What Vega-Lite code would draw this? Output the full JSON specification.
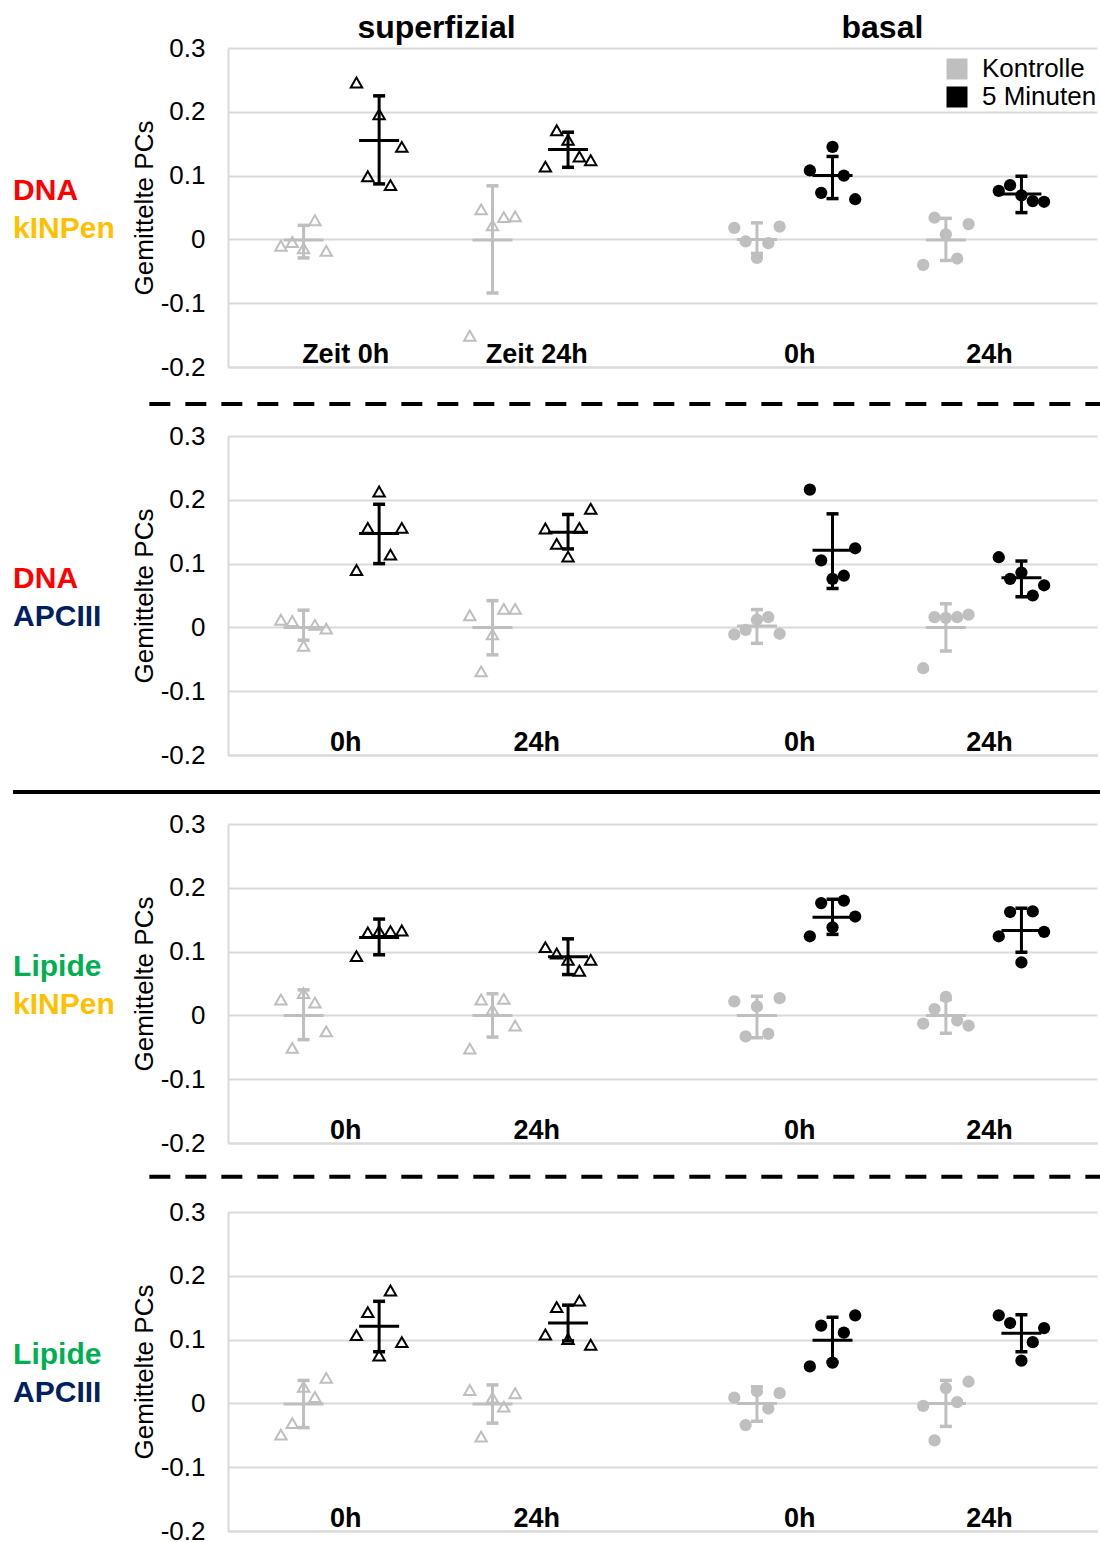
{
  "$schema": "https://vega.github.io/schema/vega-lite/v6.json",
  "padding": {"left": 11, "top": 11, "right": 0, "bottom": 0},
  "background": "white",
  "bounds": "flush",
  "spacing": 69,
  "datasets": {
    "pts": [
      {"p":1,"s":"S","g":"Kontrolle","x":0.7,"v":-0.010},{"p":1,"s":"S","g":"Kontrolle","x":0.85,"v":-0.004},{"p":1,"s":"S","g":"Kontrolle","x":1.0,"v":-0.014},{"p":1,"s":"S","g":"Kontrolle","x":1.15,"v":0.030},{"p":1,"s":"S","g":"Kontrolle","x":1.3,"v":-0.018},
      {"p":1,"s":"S","g":"5 Minuten","x":1.7,"v":0.246},{"p":1,"s":"S","g":"5 Minuten","x":1.85,"v":0.099},{"p":1,"s":"S","g":"5 Minuten","x":2.0,"v":0.196},{"p":1,"s":"S","g":"5 Minuten","x":2.15,"v":0.085},{"p":1,"s":"S","g":"5 Minuten","x":2.3,"v":0.145},
      {"p":1,"s":"S","g":"Kontrolle","x":3.2,"v":-0.151},{"p":1,"s":"S","g":"Kontrolle","x":3.35,"v":0.047},{"p":1,"s":"S","g":"Kontrolle","x":3.5,"v":0.022},{"p":1,"s":"S","g":"Kontrolle","x":3.65,"v":0.035},{"p":1,"s":"S","g":"Kontrolle","x":3.8,"v":0.036},
      {"p":1,"s":"S","g":"5 Minuten","x":4.2,"v":0.114},{"p":1,"s":"S","g":"5 Minuten","x":4.35,"v":0.171},{"p":1,"s":"S","g":"5 Minuten","x":4.5,"v":0.156},{"p":1,"s":"S","g":"5 Minuten","x":4.65,"v":0.130},{"p":1,"s":"S","g":"5 Minuten","x":4.8,"v":0.124},
      {"p":1,"s":"B","g":"Kontrolle","x":6.7,"v":0.018},{"p":1,"s":"B","g":"Kontrolle","x":6.85,"v":-0.003},{"p":1,"s":"B","g":"Kontrolle","x":7.0,"v":-0.029},{"p":1,"s":"B","g":"Kontrolle","x":7.15,"v":-0.006},{"p":1,"s":"B","g":"Kontrolle","x":7.3,"v":0.020},
      {"p":1,"s":"B","g":"5 Minuten","x":7.7,"v":0.108},{"p":1,"s":"B","g":"5 Minuten","x":7.85,"v":0.073},{"p":1,"s":"B","g":"5 Minuten","x":8.0,"v":0.145},{"p":1,"s":"B","g":"5 Minuten","x":8.15,"v":0.100},{"p":1,"s":"B","g":"5 Minuten","x":8.3,"v":0.063},
      {"p":1,"s":"B","g":"Kontrolle","x":9.2,"v":-0.040},{"p":1,"s":"B","g":"Kontrolle","x":9.35,"v":0.034},{"p":1,"s":"B","g":"Kontrolle","x":9.5,"v":0.008},{"p":1,"s":"B","g":"Kontrolle","x":9.65,"v":-0.030},{"p":1,"s":"B","g":"Kontrolle","x":9.8,"v":0.024},
      {"p":1,"s":"B","g":"5 Minuten","x":10.2,"v":0.076},{"p":1,"s":"B","g":"5 Minuten","x":10.35,"v":0.085},{"p":1,"s":"B","g":"5 Minuten","x":10.5,"v":0.069},{"p":1,"s":"B","g":"5 Minuten","x":10.65,"v":0.060},{"p":1,"s":"B","g":"5 Minuten","x":10.8,"v":0.059},
      {"p":2,"s":"S","g":"Kontrolle","x":0.7,"v":0.012},{"p":2,"s":"S","g":"Kontrolle","x":0.85,"v":0.010},{"p":2,"s":"S","g":"Kontrolle","x":1.0,"v":-0.029},{"p":2,"s":"S","g":"Kontrolle","x":1.15,"v":0.004},{"p":2,"s":"S","g":"Kontrolle","x":1.3,"v":-0.002},
      {"p":2,"s":"S","g":"5 Minuten","x":1.7,"v":0.090},{"p":2,"s":"S","g":"5 Minuten","x":1.85,"v":0.156},{"p":2,"s":"S","g":"5 Minuten","x":2.0,"v":0.213},{"p":2,"s":"S","g":"5 Minuten","x":2.15,"v":0.114},{"p":2,"s":"S","g":"5 Minuten","x":2.3,"v":0.156},
      {"p":2,"s":"S","g":"Kontrolle","x":3.2,"v":0.019},{"p":2,"s":"S","g":"Kontrolle","x":3.35,"v":-0.069},{"p":2,"s":"S","g":"Kontrolle","x":3.5,"v":-0.011},{"p":2,"s":"S","g":"Kontrolle","x":3.65,"v":0.029},{"p":2,"s":"S","g":"Kontrolle","x":3.8,"v":0.029},
      {"p":2,"s":"S","g":"5 Minuten","x":4.2,"v":0.155},{"p":2,"s":"S","g":"5 Minuten","x":4.35,"v":0.131},{"p":2,"s":"S","g":"5 Minuten","x":4.5,"v":0.111},{"p":2,"s":"S","g":"5 Minuten","x":4.65,"v":0.156},{"p":2,"s":"S","g":"5 Minuten","x":4.8,"v":0.186},
      {"p":2,"s":"B","g":"Kontrolle","x":6.7,"v":-0.011},{"p":2,"s":"B","g":"Kontrolle","x":6.85,"v":-0.004},{"p":2,"s":"B","g":"Kontrolle","x":7.0,"v":0.012},{"p":2,"s":"B","g":"Kontrolle","x":7.15,"v":0.016},{"p":2,"s":"B","g":"Kontrolle","x":7.3,"v":-0.010},
      {"p":2,"s":"B","g":"5 Minuten","x":7.7,"v":0.216},{"p":2,"s":"B","g":"5 Minuten","x":7.85,"v":0.105},{"p":2,"s":"B","g":"5 Minuten","x":8.0,"v":0.076},{"p":2,"s":"B","g":"5 Minuten","x":8.15,"v":0.081},{"p":2,"s":"B","g":"5 Minuten","x":8.3,"v":0.124},
      {"p":2,"s":"B","g":"Kontrolle","x":9.2,"v":-0.064},{"p":2,"s":"B","g":"Kontrolle","x":9.35,"v":0.016},{"p":2,"s":"B","g":"Kontrolle","x":9.5,"v":0.015},{"p":2,"s":"B","g":"Kontrolle","x":9.65,"v":0.016},{"p":2,"s":"B","g":"Kontrolle","x":9.8,"v":0.020},
      {"p":2,"s":"B","g":"5 Minuten","x":10.2,"v":0.110},{"p":2,"s":"B","g":"5 Minuten","x":10.35,"v":0.076},{"p":2,"s":"B","g":"5 Minuten","x":10.5,"v":0.086},{"p":2,"s":"B","g":"5 Minuten","x":10.65,"v":0.050},{"p":2,"s":"B","g":"5 Minuten","x":10.8,"v":0.066},
      {"p":3,"s":"S","g":"Kontrolle","x":0.7,"v":0.025},{"p":3,"s":"S","g":"Kontrolle","x":0.85,"v":-0.051},{"p":3,"s":"S","g":"Kontrolle","x":1.0,"v":0.035},{"p":3,"s":"S","g":"Kontrolle","x":1.15,"v":0.020},{"p":3,"s":"S","g":"Kontrolle","x":1.3,"v":-0.025},
      {"p":3,"s":"S","g":"5 Minuten","x":1.7,"v":0.093},{"p":3,"s":"S","g":"5 Minuten","x":1.85,"v":0.130},{"p":3,"s":"S","g":"5 Minuten","x":2.0,"v":0.132},{"p":3,"s":"S","g":"5 Minuten","x":2.15,"v":0.132},{"p":3,"s":"S","g":"5 Minuten","x":2.3,"v":0.133},
      {"p":3,"s":"S","g":"Kontrolle","x":3.2,"v":-0.052},{"p":3,"s":"S","g":"Kontrolle","x":3.35,"v":0.025},{"p":3,"s":"S","g":"Kontrolle","x":3.5,"v":0.009},{"p":3,"s":"S","g":"Kontrolle","x":3.65,"v":0.026},{"p":3,"s":"S","g":"Kontrolle","x":3.8,"v":-0.016},
      {"p":3,"s":"S","g":"5 Minuten","x":4.2,"v":0.107},{"p":3,"s":"S","g":"5 Minuten","x":4.35,"v":0.097},{"p":3,"s":"S","g":"5 Minuten","x":4.5,"v":0.087},{"p":3,"s":"S","g":"5 Minuten","x":4.65,"v":0.070},{"p":3,"s":"S","g":"5 Minuten","x":4.8,"v":0.087},
      {"p":3,"s":"B","g":"Kontrolle","x":6.7,"v":0.022},{"p":3,"s":"B","g":"Kontrolle","x":6.85,"v":-0.033},{"p":3,"s":"B","g":"Kontrolle","x":7.0,"v":0.014},{"p":3,"s":"B","g":"Kontrolle","x":7.15,"v":-0.029},{"p":3,"s":"B","g":"Kontrolle","x":7.3,"v":0.027},
      {"p":3,"s":"B","g":"5 Minuten","x":7.7,"v":0.124},{"p":3,"s":"B","g":"5 Minuten","x":7.85,"v":0.176},{"p":3,"s":"B","g":"5 Minuten","x":8.0,"v":0.138},{"p":3,"s":"B","g":"5 Minuten","x":8.15,"v":0.180},{"p":3,"s":"B","g":"5 Minuten","x":8.3,"v":0.155},
      {"p":3,"s":"B","g":"Kontrolle","x":9.2,"v":-0.013},{"p":3,"s":"B","g":"Kontrolle","x":9.35,"v":0.010},{"p":3,"s":"B","g":"Kontrolle","x":9.5,"v":0.029},{"p":3,"s":"B","g":"Kontrolle","x":9.65,"v":-0.008},{"p":3,"s":"B","g":"Kontrolle","x":9.8,"v":-0.016},
      {"p":3,"s":"B","g":"5 Minuten","x":10.2,"v":0.124},{"p":3,"s":"B","g":"5 Minuten","x":10.35,"v":0.162},{"p":3,"s":"B","g":"5 Minuten","x":10.5,"v":0.083},{"p":3,"s":"B","g":"5 Minuten","x":10.65,"v":0.163},{"p":3,"s":"B","g":"5 Minuten","x":10.8,"v":0.131},
      {"p":4,"s":"S","g":"Kontrolle","x":0.7,"v":-0.049},{"p":4,"s":"S","g":"Kontrolle","x":0.85,"v":-0.031},{"p":4,"s":"S","g":"Kontrolle","x":1.0,"v":0.026},{"p":4,"s":"S","g":"Kontrolle","x":1.15,"v":0.010},{"p":4,"s":"S","g":"Kontrolle","x":1.3,"v":0.040},
      {"p":4,"s":"S","g":"5 Minuten","x":1.7,"v":0.107},{"p":4,"s":"S","g":"5 Minuten","x":1.85,"v":0.143},{"p":4,"s":"S","g":"5 Minuten","x":2.0,"v":0.075},{"p":4,"s":"S","g":"5 Minuten","x":2.15,"v":0.177},{"p":4,"s":"S","g":"5 Minuten","x":2.3,"v":0.096},
      {"p":4,"s":"S","g":"Kontrolle","x":3.2,"v":0.021},{"p":4,"s":"S","g":"Kontrolle","x":3.35,"v":-0.052},{"p":4,"s":"S","g":"Kontrolle","x":3.5,"v":0.009},{"p":4,"s":"S","g":"Kontrolle","x":3.65,"v":-0.005},{"p":4,"s":"S","g":"Kontrolle","x":3.8,"v":0.016},
      {"p":4,"s":"S","g":"5 Minuten","x":4.2,"v":0.108},{"p":4,"s":"S","g":"5 Minuten","x":4.35,"v":0.151},{"p":4,"s":"S","g":"5 Minuten","x":4.5,"v":0.101},{"p":4,"s":"S","g":"5 Minuten","x":4.65,"v":0.161},{"p":4,"s":"S","g":"5 Minuten","x":4.8,"v":0.092},
      {"p":4,"s":"B","g":"Kontrolle","x":6.7,"v":0.009},{"p":4,"s":"B","g":"Kontrolle","x":6.85,"v":-0.034},{"p":4,"s":"B","g":"Kontrolle","x":7.0,"v":0.019},{"p":4,"s":"B","g":"Kontrolle","x":7.15,"v":-0.008},{"p":4,"s":"B","g":"Kontrolle","x":7.3,"v":0.016},
      {"p":4,"s":"B","g":"5 Minuten","x":7.7,"v":0.058},{"p":4,"s":"B","g":"5 Minuten","x":7.85,"v":0.122},{"p":4,"s":"B","g":"5 Minuten","x":8.0,"v":0.064},{"p":4,"s":"B","g":"5 Minuten","x":8.15,"v":0.111},{"p":4,"s":"B","g":"5 Minuten","x":8.3,"v":0.138},
      {"p":4,"s":"B","g":"Kontrolle","x":9.2,"v":-0.004},{"p":4,"s":"B","g":"Kontrolle","x":9.35,"v":-0.058},{"p":4,"s":"B","g":"Kontrolle","x":9.5,"v":0.024},{"p":4,"s":"B","g":"Kontrolle","x":9.65,"v":0.002},{"p":4,"s":"B","g":"Kontrolle","x":9.8,"v":0.034},
      {"p":4,"s":"B","g":"5 Minuten","x":10.2,"v":0.138},{"p":4,"s":"B","g":"5 Minuten","x":10.35,"v":0.126},{"p":4,"s":"B","g":"5 Minuten","x":10.5,"v":0.067},{"p":4,"s":"B","g":"5 Minuten","x":10.65,"v":0.096},{"p":4,"s":"B","g":"5 Minuten","x":10.8,"v":0.118}
    ],
    "st": [
      {"p":1,"g":"Kontrolle","x":1.0,"m":-0.001,"lo":-0.029,"hi":0.022},
      {"p":1,"g":"5 Minuten","x":2.0,"m":0.155,"lo":0.087,"hi":0.225},
      {"p":1,"g":"Kontrolle","x":3.5,"m":-0.001,"lo":-0.084,"hi":0.084},
      {"p":1,"g":"5 Minuten","x":4.5,"m":0.141,"lo":0.113,"hi":0.168},
      {"p":1,"g":"Kontrolle","x":7.0,"m":0.0,"lo":-0.022,"hi":0.026},
      {"p":1,"g":"5 Minuten","x":8.0,"m":0.100,"lo":0.064,"hi":0.130},
      {"p":1,"g":"Kontrolle","x":9.5,"m":-0.001,"lo":-0.033,"hi":0.033},
      {"p":1,"g":"5 Minuten","x":10.5,"m":0.071,"lo":0.042,"hi":0.099},
      {"p":2,"g":"Kontrolle","x":1.0,"m":0.0,"lo":-0.020,"hi":0.027},
      {"p":2,"g":"5 Minuten","x":2.0,"m":0.147,"lo":0.100,"hi":0.193},
      {"p":2,"g":"Kontrolle","x":3.5,"m":0.0,"lo":-0.043,"hi":0.042},
      {"p":2,"g":"5 Minuten","x":4.5,"m":0.149,"lo":0.123,"hi":0.177},
      {"p":2,"g":"Kontrolle","x":7.0,"m":0.002,"lo":-0.025,"hi":0.028},
      {"p":2,"g":"5 Minuten","x":8.0,"m":0.121,"lo":0.061,"hi":0.178},
      {"p":2,"g":"Kontrolle","x":9.5,"m":0.0,"lo":-0.037,"hi":0.037},
      {"p":2,"g":"5 Minuten","x":10.5,"m":0.078,"lo":0.048,"hi":0.104},
      {"p":3,"g":"Kontrolle","x":1.0,"m":0.0,"lo":-0.038,"hi":0.040},
      {"p":3,"g":"5 Minuten","x":2.0,"m":0.122,"lo":0.095,"hi":0.151},
      {"p":3,"g":"Kontrolle","x":3.5,"m":0.0,"lo":-0.034,"hi":0.034},
      {"p":3,"g":"5 Minuten","x":4.5,"m":0.092,"lo":0.064,"hi":0.120},
      {"p":3,"g":"Kontrolle","x":7.0,"m":0.0,"lo":-0.035,"hi":0.030},
      {"p":3,"g":"5 Minuten","x":8.0,"m":0.154,"lo":0.127,"hi":0.182},
      {"p":3,"g":"Kontrolle","x":9.5,"m":0.0,"lo":-0.028,"hi":0.025},
      {"p":3,"g":"5 Minuten","x":10.5,"m":0.133,"lo":0.099,"hi":0.168},
      {"p":4,"g":"Kontrolle","x":1.0,"m":-0.001,"lo":-0.038,"hi":0.036},
      {"p":4,"g":"5 Minuten","x":2.0,"m":0.121,"lo":0.081,"hi":0.160},
      {"p":4,"g":"Kontrolle","x":3.5,"m":-0.001,"lo":-0.031,"hi":0.029},
      {"p":4,"g":"5 Minuten","x":4.5,"m":0.126,"lo":0.098,"hi":0.154},
      {"p":4,"g":"Kontrolle","x":7.0,"m":0.0,"lo":-0.028,"hi":0.026},
      {"p":4,"g":"5 Minuten","x":8.0,"m":0.099,"lo":0.065,"hi":0.135},
      {"p":4,"g":"Kontrolle","x":9.5,"m":0.0,"lo":-0.036,"hi":0.036},
      {"p":4,"g":"5 Minuten","x":10.5,"m":0.110,"lo":0.081,"hi":0.139}
    ],
    "lab": [
      {"p":1,"line":1,"t":"DNA"},{"p":1,"line":2,"t":"kINPen"},
      {"p":2,"line":1,"t":"DNA"},{"p":2,"line":2,"t":"APCIII"},
      {"p":3,"line":1,"t":"Lipide"},{"p":3,"line":2,"t":"kINPen"},
      {"p":4,"line":1,"t":"Lipide"},{"p":4,"line":2,"t":"APCIII"}
    ]
  },
  "vconcat": [
    {
      "width": 869, "height": 319,
      "layer": [
        {"data": {"name": "pts"}, "transform": [{"filter": "datum.p == 1 && datum.s == 'B'"}],
         "mark": {"type": "point", "shape": "circle", "filled": true, "size": 150, "opacity": 1},
         "encoding": {
           "x": {"field": "x", "type": "quantitative", "scale": {"domain": [0, 11.5], "nice": false, "zero": false},
                 "axis": {"values": [1.55, 4.08, 7.56, 10.07], "labelExpr": "datum.value < 3 ? 'Zeit 0h' : datum.value < 6 ? 'Zeit 24h' : datum.value < 9 ? '0h' : '24h'", "labelFontSize": 27, "labelFontWeight": "bold", "labelBaseline": "alphabetic", "labelPadding": -5, "grid": false, "title": null, "labelOverlap": false, "labelFlush": false}},
           "y": {"field": "v", "type": "quantitative", "scale": {"domain": [-0.2, 0.3], "nice": false, "zero": false},
                 "axis": {"values": [-0.2, -0.1, 0, 0.1, 0.2, 0.3], "format": ".1~f", "title": "Gemittelte PCs", "titleFontSize": 26, "titleFontWeight": "normal", "titlePadding": 3, "labelFontSize": 26, "labelPadding": 23, "grid": true}},
           "color": {"field": "g", "type": "nominal", "scale": {"domain": ["Kontrolle", "5 Minuten"], "range": ["#BFBFBF", "#000000"]},
             "legend": {"title": null, "orient": "none", "direction": "vertical", "legendX": 716, "legendY": 8, "symbolType": "square", "symbolSize": 441, "symbolStrokeWidth": 0, "labelFontSize": 26, "labelOffset": 12, "rowPadding": 2, "labelColor": "#000000", "padding": 0}}}},
        {"data": {"name": "pts"}, "transform": [{"filter": "datum.p == 1 && datum.s == 'S'"}],
         "mark": {"type": "point", "shape": "triangle-up", "filled": false, "size": 130, "strokeWidth": 2, "opacity": 1},
         "encoding": {"x": {"field": "x", "type": "quantitative"}, "y": {"field": "v", "type": "quantitative"}, "color": {"field": "g", "type": "nominal", "legend": null}}},
        {"data": {"name": "st"}, "transform": [{"filter": "datum.p == 1"}],
         "mark": {"type": "rule", "strokeWidth": 3},
         "encoding": {"x": {"field": "x", "type": "quantitative"}, "y": {"field": "lo", "type": "quantitative"}, "y2": {"field": "hi"}, "color": {"field": "g", "type": "nominal", "legend": null}}},
        {"data": {"name": "st"}, "transform": [{"filter": "datum.p == 1"}],
         "mark": {"type": "tick", "orient": "horizontal", "size": 40, "thickness": 3, "opacity": 1},
         "encoding": {"x": {"field": "x", "type": "quantitative"}, "y": {"field": "m", "type": "quantitative"}, "color": {"field": "g", "type": "nominal", "legend": null}}},
        {"data": {"name": "st"}, "transform": [{"filter": "datum.p == 1"}],
         "mark": {"type": "tick", "orient": "horizontal", "size": 12, "thickness": 3.5, "opacity": 1},
         "encoding": {"x": {"field": "x", "type": "quantitative"}, "y": {"field": "lo", "type": "quantitative"}, "color": {"field": "g", "type": "nominal", "legend": null}}},
        {"data": {"name": "st"}, "transform": [{"filter": "datum.p == 1"}],
         "mark": {"type": "tick", "orient": "horizontal", "size": 12, "thickness": 3.5, "opacity": 1},
         "encoding": {"x": {"field": "x", "type": "quantitative"}, "y": {"field": "hi", "type": "quantitative"}, "color": {"field": "g", "type": "nominal", "legend": null}}},
        {"data": {"name": "lab"}, "transform": [{"filter": "datum.p == 1 && datum.line == 1"}],
         "mark": {"type": "text", "align": "left", "baseline": "alphabetic", "fontSize": 30, "fontWeight": "bold", "color": "#FF0000"},
         "encoding": {"x": {"datum": -2.844}, "y": {"datum": 0.0618}, "text": {"field": "t"}}},
        {"data": {"name": "lab"}, "transform": [{"filter": "datum.p == 1 && datum.line == 2"}],
         "mark": {"type": "text", "align": "left", "baseline": "alphabetic", "fontSize": 30, "fontWeight": "bold", "color": "#FFC000"},
         "encoding": {"x": {"datum": -2.844}, "y": {"datum": 0.0022}, "text": {"field": "t"}}},
        {"data": {"values": [{"t": "superfizial"}]},
         "mark": {"type": "text", "align": "center", "baseline": "alphabetic", "fontSize": 32, "fontWeight": "bold", "color": "#000000"},
         "encoding": {"x": {"datum": 2.76}, "y": {"datum": 0.3157}, "text": {"field": "t"}}},
        {"data": {"values": [{"t": "basal"}]},
         "mark": {"type": "text", "align": "center", "baseline": "alphabetic", "fontSize": 32, "fontWeight": "bold", "color": "#000000"},
         "encoding": {"x": {"datum": 8.66}, "y": {"datum": 0.3157}, "text": {"field": "t"}}},
        {"data": {"values": [{"k": 1}]},
         "mark": {"type": "rule", "strokeWidth": 4, "strokeDash": [21, 15], "color": "#000000"},
         "encoding": {"x": {"datum": -1.041}, "x2": {"datum": 11.54}, "y": {"datum": -0.258}}}
      ]
    },
    {
      "width": 869, "height": 319,
      "layer": [
        {"data": {"name": "pts"}, "transform": [{"filter": "datum.p == 2 && datum.s == 'S'"}],
         "mark": {"type": "point", "shape": "triangle-up", "filled": false, "size": 130, "strokeWidth": 2, "opacity": 1},
         "encoding": {
           "x": {"field": "x", "type": "quantitative", "scale": {"domain": [0, 11.5], "nice": false, "zero": false},
                 "axis": {"values": [1.55, 4.08, 7.56, 10.07], "labelExpr": "datum.value < 3 ? '0h' : datum.value < 6 ? '24h' : datum.value < 9 ? '0h' : '24h'", "labelFontSize": 27, "labelFontWeight": "bold", "labelBaseline": "alphabetic", "labelPadding": -5, "grid": false, "title": null, "labelOverlap": false, "labelFlush": false}},
           "y": {"field": "v", "type": "quantitative", "scale": {"domain": [-0.2, 0.3], "nice": false, "zero": false},
                 "axis": {"values": [-0.2, -0.1, 0, 0.1, 0.2, 0.3], "format": ".1~f", "title": "Gemittelte PCs", "titleFontSize": 26, "titleFontWeight": "normal", "titlePadding": 3, "labelFontSize": 26, "labelPadding": 23, "grid": true}},
           "color": {"field": "g", "type": "nominal", "legend": null}}},
        {"data": {"name": "pts"}, "transform": [{"filter": "datum.p == 2 && datum.s == 'B'"}],
         "mark": {"type": "point", "shape": "circle", "filled": true, "size": 150, "opacity": 1},
         "encoding": {"x": {"field": "x", "type": "quantitative"}, "y": {"field": "v", "type": "quantitative"}, "color": {"field": "g", "type": "nominal", "legend": null}}},
        {"data": {"name": "st"}, "transform": [{"filter": "datum.p == 2"}],
         "mark": {"type": "rule", "strokeWidth": 3},
         "encoding": {"x": {"field": "x", "type": "quantitative"}, "y": {"field": "lo", "type": "quantitative"}, "y2": {"field": "hi"}, "color": {"field": "g", "type": "nominal", "legend": null}}},
        {"data": {"name": "st"}, "transform": [{"filter": "datum.p == 2"}],
         "mark": {"type": "tick", "orient": "horizontal", "size": 40, "thickness": 3, "opacity": 1},
         "encoding": {"x": {"field": "x", "type": "quantitative"}, "y": {"field": "m", "type": "quantitative"}, "color": {"field": "g", "type": "nominal", "legend": null}}},
        {"data": {"name": "st"}, "transform": [{"filter": "datum.p == 2"}],
         "mark": {"type": "tick", "orient": "horizontal", "size": 12, "thickness": 3.5, "opacity": 1},
         "encoding": {"x": {"field": "x", "type": "quantitative"}, "y": {"field": "lo", "type": "quantitative"}, "color": {"field": "g", "type": "nominal", "legend": null}}},
        {"data": {"name": "st"}, "transform": [{"filter": "datum.p == 2"}],
         "mark": {"type": "tick", "orient": "horizontal", "size": 12, "thickness": 3.5, "opacity": 1},
         "encoding": {"x": {"field": "x", "type": "quantitative"}, "y": {"field": "hi", "type": "quantitative"}, "color": {"field": "g", "type": "nominal", "legend": null}}},
        {"data": {"name": "lab"}, "transform": [{"filter": "datum.p == 2 && datum.line == 1"}],
         "mark": {"type": "text", "align": "left", "baseline": "alphabetic", "fontSize": 30, "fontWeight": "bold", "color": "#FF0000"},
         "encoding": {"x": {"datum": -2.844}, "y": {"datum": 0.0618}, "text": {"field": "t"}}},
        {"data": {"name": "lab"}, "transform": [{"filter": "datum.p == 2 && datum.line == 2"}],
         "mark": {"type": "text", "align": "left", "baseline": "alphabetic", "fontSize": 30, "fontWeight": "bold", "color": "#002060"},
         "encoding": {"x": {"datum": -2.844}, "y": {"datum": 0.0022}, "text": {"field": "t"}}},
        {"data": {"values": [{"k": 1}]},
         "mark": {"type": "rule", "strokeWidth": 4, "color": "#000000"},
         "encoding": {"x": {"datum": -2.844}, "x2": {"datum": 11.54}, "y": {"datum": -0.258}}}
      ]
    },
    {
      "width": 869, "height": 319,
      "layer": [
        {"data": {"name": "pts"}, "transform": [{"filter": "datum.p == 3 && datum.s == 'S'"}],
         "mark": {"type": "point", "shape": "triangle-up", "filled": false, "size": 130, "strokeWidth": 2, "opacity": 1},
         "encoding": {
           "x": {"field": "x", "type": "quantitative", "scale": {"domain": [0, 11.5], "nice": false, "zero": false},
                 "axis": {"values": [1.55, 4.08, 7.56, 10.07], "labelExpr": "datum.value < 3 ? '0h' : datum.value < 6 ? '24h' : datum.value < 9 ? '0h' : '24h'", "labelFontSize": 27, "labelFontWeight": "bold", "labelBaseline": "alphabetic", "labelPadding": -5, "grid": false, "title": null, "labelOverlap": false, "labelFlush": false}},
           "y": {"field": "v", "type": "quantitative", "scale": {"domain": [-0.2, 0.3], "nice": false, "zero": false},
                 "axis": {"values": [-0.2, -0.1, 0, 0.1, 0.2, 0.3], "format": ".1~f", "title": "Gemittelte PCs", "titleFontSize": 26, "titleFontWeight": "normal", "titlePadding": 3, "labelFontSize": 26, "labelPadding": 23, "grid": true}},
           "color": {"field": "g", "type": "nominal", "legend": null}}},
        {"data": {"name": "pts"}, "transform": [{"filter": "datum.p == 3 && datum.s == 'B'"}],
         "mark": {"type": "point", "shape": "circle", "filled": true, "size": 150, "opacity": 1},
         "encoding": {"x": {"field": "x", "type": "quantitative"}, "y": {"field": "v", "type": "quantitative"}, "color": {"field": "g", "type": "nominal", "legend": null}}},
        {"data": {"name": "st"}, "transform": [{"filter": "datum.p == 3"}],
         "mark": {"type": "rule", "strokeWidth": 3},
         "encoding": {"x": {"field": "x", "type": "quantitative"}, "y": {"field": "lo", "type": "quantitative"}, "y2": {"field": "hi"}, "color": {"field": "g", "type": "nominal", "legend": null}}},
        {"data": {"name": "st"}, "transform": [{"filter": "datum.p == 3"}],
         "mark": {"type": "tick", "orient": "horizontal", "size": 40, "thickness": 3, "opacity": 1},
         "encoding": {"x": {"field": "x", "type": "quantitative"}, "y": {"field": "m", "type": "quantitative"}, "color": {"field": "g", "type": "nominal", "legend": null}}},
        {"data": {"name": "st"}, "transform": [{"filter": "datum.p == 3"}],
         "mark": {"type": "tick", "orient": "horizontal", "size": 12, "thickness": 3.5, "opacity": 1},
         "encoding": {"x": {"field": "x", "type": "quantitative"}, "y": {"field": "lo", "type": "quantitative"}, "color": {"field": "g", "type": "nominal", "legend": null}}},
        {"data": {"name": "st"}, "transform": [{"filter": "datum.p == 3"}],
         "mark": {"type": "tick", "orient": "horizontal", "size": 12, "thickness": 3.5, "opacity": 1},
         "encoding": {"x": {"field": "x", "type": "quantitative"}, "y": {"field": "hi", "type": "quantitative"}, "color": {"field": "g", "type": "nominal", "legend": null}}},
        {"data": {"name": "lab"}, "transform": [{"filter": "datum.p == 3 && datum.line == 1"}],
         "mark": {"type": "text", "align": "left", "baseline": "alphabetic", "fontSize": 30, "fontWeight": "bold", "color": "#00B050"},
         "encoding": {"x": {"datum": -2.844}, "y": {"datum": 0.0618}, "text": {"field": "t"}}},
        {"data": {"name": "lab"}, "transform": [{"filter": "datum.p == 3 && datum.line == 2"}],
         "mark": {"type": "text", "align": "left", "baseline": "alphabetic", "fontSize": 30, "fontWeight": "bold", "color": "#FFC000"},
         "encoding": {"x": {"datum": -2.844}, "y": {"datum": 0.0022}, "text": {"field": "t"}}},
        {"data": {"values": [{"k": 1}]},
         "mark": {"type": "rule", "strokeWidth": 4, "strokeDash": [21, 15], "color": "#000000"},
         "encoding": {"x": {"datum": -1.041}, "x2": {"datum": 11.54}, "y": {"datum": -0.2528}}}
      ]
    },
    {
      "width": 869, "height": 319,
      "layer": [
        {"data": {"name": "pts"}, "transform": [{"filter": "datum.p == 4 && datum.s == 'S'"}],
         "mark": {"type": "point", "shape": "triangle-up", "filled": false, "size": 130, "strokeWidth": 2, "opacity": 1},
         "encoding": {
           "x": {"field": "x", "type": "quantitative", "scale": {"domain": [0, 11.5], "nice": false, "zero": false},
                 "axis": {"values": [1.55, 4.08, 7.56, 10.07], "labelExpr": "datum.value < 3 ? '0h' : datum.value < 6 ? '24h' : datum.value < 9 ? '0h' : '24h'", "labelFontSize": 27, "labelFontWeight": "bold", "labelBaseline": "alphabetic", "labelPadding": -5, "grid": false, "title": null, "labelOverlap": false, "labelFlush": false}},
           "y": {"field": "v", "type": "quantitative", "scale": {"domain": [-0.2, 0.3], "nice": false, "zero": false},
                 "axis": {"values": [-0.2, -0.1, 0, 0.1, 0.2, 0.3], "format": ".1~f", "title": "Gemittelte PCs", "titleFontSize": 26, "titleFontWeight": "normal", "titlePadding": 3, "labelFontSize": 26, "labelPadding": 23, "grid": true}},
           "color": {"field": "g", "type": "nominal", "legend": null}}},
        {"data": {"name": "pts"}, "transform": [{"filter": "datum.p == 4 && datum.s == 'B'"}],
         "mark": {"type": "point", "shape": "circle", "filled": true, "size": 150, "opacity": 1},
         "encoding": {"x": {"field": "x", "type": "quantitative"}, "y": {"field": "v", "type": "quantitative"}, "color": {"field": "g", "type": "nominal", "legend": null}}},
        {"data": {"name": "st"}, "transform": [{"filter": "datum.p == 4"}],
         "mark": {"type": "rule", "strokeWidth": 3},
         "encoding": {"x": {"field": "x", "type": "quantitative"}, "y": {"field": "lo", "type": "quantitative"}, "y2": {"field": "hi"}, "color": {"field": "g", "type": "nominal", "legend": null}}},
        {"data": {"name": "st"}, "transform": [{"filter": "datum.p == 4"}],
         "mark": {"type": "tick", "orient": "horizontal", "size": 40, "thickness": 3, "opacity": 1},
         "encoding": {"x": {"field": "x", "type": "quantitative"}, "y": {"field": "m", "type": "quantitative"}, "color": {"field": "g", "type": "nominal", "legend": null}}},
        {"data": {"name": "st"}, "transform": [{"filter": "datum.p == 4"}],
         "mark": {"type": "tick", "orient": "horizontal", "size": 12, "thickness": 3.5, "opacity": 1},
         "encoding": {"x": {"field": "x", "type": "quantitative"}, "y": {"field": "lo", "type": "quantitative"}, "color": {"field": "g", "type": "nominal", "legend": null}}},
        {"data": {"name": "st"}, "transform": [{"filter": "datum.p == 4"}],
         "mark": {"type": "tick", "orient": "horizontal", "size": 12, "thickness": 3.5, "opacity": 1},
         "encoding": {"x": {"field": "x", "type": "quantitative"}, "y": {"field": "hi", "type": "quantitative"}, "color": {"field": "g", "type": "nominal", "legend": null}}},
        {"data": {"name": "lab"}, "transform": [{"filter": "datum.p == 4 && datum.line == 1"}],
         "mark": {"type": "text", "align": "left", "baseline": "alphabetic", "fontSize": 30, "fontWeight": "bold", "color": "#00B050"},
         "encoding": {"x": {"datum": -2.844}, "y": {"datum": 0.0618}, "text": {"field": "t"}}},
        {"data": {"name": "lab"}, "transform": [{"filter": "datum.p == 4 && datum.line == 2"}],
         "mark": {"type": "text", "align": "left", "baseline": "alphabetic", "fontSize": 30, "fontWeight": "bold", "color": "#002060"},
         "encoding": {"x": {"datum": -2.844}, "y": {"datum": 0.0022}, "text": {"field": "t"}}}
      ]
    }
  ],
  "config": {
    "font": "Liberation Sans",
    "locale": {"number": {"decimal": ".", "thousands": ",", "grouping": [3], "currency": ["$", ""], "minus": "-"}},
    "view": {"stroke": null},
    "axis": {"gridColor": "#D9D9D9", "gridWidth": 2, "domainColor": "#D9D9D9", "domainWidth": 2, "ticks": false, "tickSize": 0, "labelColor": "#000000", "titleColor": "#000000"}
  }
}
